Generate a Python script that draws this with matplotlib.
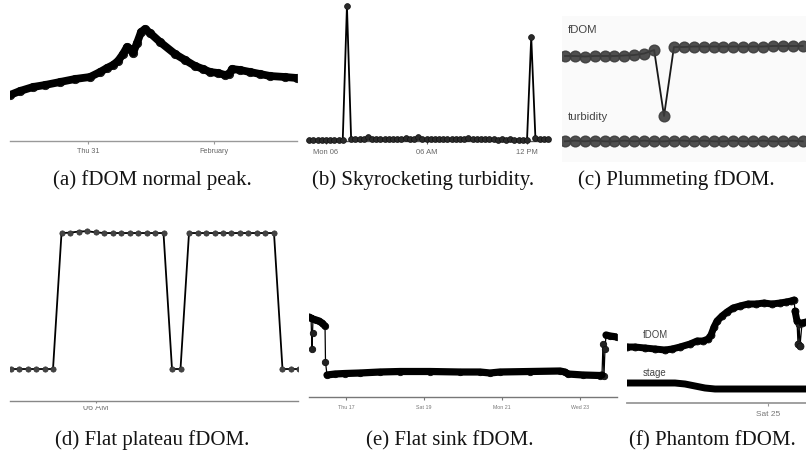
import numpy as np
import matplotlib
matplotlib.use('Agg')
import matplotlib.pyplot as plt
from matplotlib.transforms import Bbox, TransformedBbox

# (a) fDOM normal peak: hours since Jan 30 00:00
a_hours = [9.14, 11.05, 13.52, 15.81, 18.67, 21.52, 24.38, 26.29, 27.62, 28.76,
           29.71, 30.67, 31.43, 32.0, 32.57, 33.33, 34.1, 34.86, 35.81, 37.71,
           40.57, 42.48, 44.38, 45.9, 47.24, 48.76, 50.1, 50.86, 51.43, 52.95,
           54.86, 56.76, 58.67, 61.52, 63.81]
a_fdom = [43, 45, 47, 48, 49.5, 51, 52, 54.5, 56.5, 58,
          60, 63.5, 67, 66, 64, 69, 74.5, 76, 74, 69.5,
          63.5, 60.5, 57.5, 56, 54.5, 54, 53, 53.5, 56, 55.5,
          54.5, 53.5, 52.5, 52, 51.5]
a_ticks = [24, 48]
a_ticklabels = ['Thu 31', 'February']

# (b) skyrocketing turbidity: 15-minute samples, hours since Mon 06 00:00
b_hours = np.arange(58) * 0.25 - 1.0
b_turb = [2.1, 2.2, 2.1, 2.2, 2.2, 2.1, 2.2, 2.3,
          2.4, 136.0, 3.0, 3.2, 3.3, 3.4, 4.6, 3.3,
          3.1, 3.0, 2.9, 2.8, 2.9, 3.0, 3.2, 4.5,
          3.0, 3.1, 4.6, 3.2, 2.9, 2.8, 2.7, 2.8,
          2.7, 2.8, 2.7, 2.8, 2.9, 3.0, 4.4, 3.0,
          2.8, 2.7, 2.6, 2.7, 2.6, 2.5, 2.6, 2.5,
          2.6, 2.5, 2.4, 2.5, 2.5, 105.0, 3.6, 3.4,
          3.2, 3.0]
b_ticks = [0, 6, 12]
b_ticklabels = ['Mon 06', '06 AM', '12 PM']

# (c) plummeting fDOM next to steady turbidity
c_minutes = np.arange(25) * 15
c_fdom = [30.2, 30.2, 30.1, 30.2, 30.2, 30.2, 30.3, 30.4, 30.7, 31.4,
          18.2,
          32.0, 32.0, 32.1, 32.1, 32.1, 32.1, 32.1, 32.1, 32.1, 32.1,
          32.2, 32.2, 32.2, 32.2]
c_turb = [1.21, 1.22, 1.21, 1.22, 1.21, 1.21, 1.22, 1.21, 1.22, 1.21,
          1.21, 1.22, 1.22, 1.21, 1.22, 1.21, 1.21, 1.22, 1.21, 1.21,
          1.22, 1.21, 1.21, 1.22, 1.21]

# (d) flat plateau fDOM: 15-minute samples from 03:30
d_hours = np.arange(35) * 0.25 + 3.5
d_fdom = [115, 115, 115, 115, 115, 115,
          300, 300.5, 302, 302.5, 301, 300, 300, 300, 300, 300, 300, 300, 300,
          115, 115,
          300, 300, 300, 300, 300, 300, 300, 300, 300, 300, 300,
          115, 115, 115]
d_ticks = [6]
d_ticklabels = ['06 AM']

# (e) flat sink fDOM: days since Thu 17 00:00
e_days = [-0.949, -0.897, -0.872, -0.859, -0.846, -0.769, -0.692, -0.615, -0.538, -0.526,
          -0.487, -0.282, -0.026, 0.359, 0.872, 1.385, 2.154, 2.923, 3.436, 3.692,
          3.949, 4.718, 5.487, 5.615, 5.692, 6.077, 6.513, 6.564, 6.590, 6.615,
          6.641, 6.667, 6.769, 6.949]
e_fdom = [45.0, 44.5, 29.0, 37.0, 44.0, 43.5, 43.0, 42.0, 40.5, 22.5,
          16.0, 16.5, 16.75, 17.0, 17.5, 17.75, 17.75, 17.5, 17.5, 17.0,
          17.5, 17.75, 18.0, 17.5, 16.5, 16.0, 15.75, 16.0, 31.5, 15.5,
          29.0, 36.0, 35.5, 35.0]
e_ticks = [0, 2, 4, 6]
e_ticklabels = ['Thu 17', 'Sat 19', 'Mon 21', 'Wed 23']

# (f) phantom fDOM with stage below: hours since Sat 25 00:00
f_hours = [-23.5, -22.17, -20.5, -18.83, -17.17, -16.0, -14.67, -13.0, -11.83, -10.83,
           -10.0, -9.5, -9.0, -8.5, -7.67, -6.83, -5.83, -4.67, -3.33, -2.0,
           -0.67, 0.67, 2.0, 3.0, 3.83, 4.33, 4.5, 4.83, 5.0, 5.17,
           5.33, 5.67, 6.33]
f_fdom = [32.4, 32.4, 32.0, 31.6, 31.2, 31.6, 32.4, 33.6, 34.8, 34.8,
          35.6, 37.2, 40.4, 42.8, 44.8, 46.4, 48.0, 48.8, 49.6, 49.6,
          50.0, 49.6, 50.0, 50.4, 50.8, 51.2, 46.8, 42.8, 33.6, 41.6,
          32.8, 42.0, 42.4]
f_stage_hours = [-23.5, -19.67, -15.5, -13.83, -12.17, -10.5, -8.83, -6.33, -1.33, 3.67, 6.33]
f_stage = [0.70, 0.70, 0.70, 0.69, 0.67, 0.65, 0.64, 0.64, 0.64, 0.64, 0.64]
f_ticks = [0]
f_ticklabels = ['Sat 25']

captions = ['(a) fDOM normal peak.', '(b) Skyrocketing turbidity.', '(c) Plummeting fDOM.',
            '(d) Flat plateau fDOM.', '(e) Flat sink fDOM.', '(f) Phantom fDOM.']

W, H = 806, 452
fig = plt.figure(figsize=(W / 100, H / 100), dpi=100)
SANS = 'Liberation Sans'


def box(x0, y0, x1, y1):
    # axes placed by pixel edges, y measured from the top
    return fig.add_axes([x0 / W, 1 - y1 / H, (x1 - x0) / W, (y1 - y0) / H])


def bare(ax):
    ax.patch.set_alpha(0)
    for s in ax.spines.values():
        s.set_visible(False)
    ax.set_xticks([])
    ax.set_yticks([])


def time_axis(ax, ticks, labels, size, color='#999', labelcolor='#666', lw=1.0, pad=2,
              length=2.5):
    bare(ax)
    ax.spines['bottom'].set_visible(True)
    ax.spines['bottom'].set_color(color)
    ax.spines['bottom'].set_linewidth(lw)
    ax.set_xticks(ticks, labels)
    ax.tick_params(axis='x', length=length, width=0.8, color=color, pad=pad,
                   labelsize=size, labelcolor=labelcolor)
    for lab in ax.get_xticklabels():
        lab.set_family(SANS)


def split_jumps(x, y, limit):
    # break the heavy trace wherever the series jumps, so jumps stay thin
    xs, ys = [x[0]], [y[0]]
    for i in range(1, len(x)):
        if abs(y[i] - y[i - 1]) > limit:
            xs.append(np.nan)
            ys.append(np.nan)
        xs.append(x[i])
        ys.append(y[i])
    return xs, ys


def heavy(ax, x, y, limit, thin=0.9, thick=5.0, ms=5):
    ax.plot(x, y, color='black', lw=thin, marker='o', ms=ms, mfc='#222', mec='#111',
            mew=0.6, zorder=3)
    hx, hy = split_jumps(x, y, limit)
    ax.plot(hx, hy, color='black', lw=thick, solid_capstyle='round',
            solid_joinstyle='round', zorder=4)


# (a)
ax = box(10, 10, 297, 142)
heavy(ax, a_hours, a_fdom, 100, thick=5.6, ms=6)
ax.set_xlim(9.14, 63.8)
ax.set_ylim(20, 86)
time_axis(ax, a_ticks, a_ticklabels, 5.2)

# (b)
ax = box(307, 0, 550, 142)
ax.plot(b_hours, b_turb, color='black', lw=1.3, marker='o', ms=4.2,
        mfc='#2a2a2a', mec='#111', mew=0.5, zorder=3, clip_on=False)
ax.set_xlim(-1.134, 13.37)
ax.set_ylim(1, 143)
time_axis(ax, b_ticks, b_ticklabels, 5.4, color='#555', pad=2.5)

# (c)
ax = box(562, 17, 806, 163)
bare(ax)
ax.patch.set_alpha(1)
ax.set_facecolor('#fafafa')
ax.plot(c_minutes, c_fdom, color='black', lw=1.3, marker='o', ms=7.7,
        mfc='#3c3c3c', mec='#3c3c3c', alpha=0.9, zorder=3)
ax.set_xlim(-4.5, 365)
ax.set_ylim(9.0, 38.2)
ax2 = box(562, 17, 806, 163)
bare(ax2)
ax2.plot(c_minutes, c_turb, color='black', lw=1.3, marker='o', ms=7.7,
         mfc='#3c3c3c', mec='#3c3c3c', alpha=0.9, zorder=3)
ax2.set_xlim(-4.5, 365)
ax2.set_ylim(0.9, 3.09)
fig.text(568 / W, 1 - 30 / H, 'fDOM', family=SANS, size=8.2, color='#444', va='center')
fig.text(568 / W, 1 - 117 / H, 'turbidity', family=SANS, size=8.2, color='#444', va='center')

# (d): the tick label sits half hidden under the axis
ax = box(10, 215, 298, 402)
ax.plot(d_hours, d_fdom, color='black', lw=1.3, marker='o', ms=3.8,
        mfc='#444', mec='#333', mew=0.5, zorder=3)
ax.set_xlim(3.485, 11.956)
ax.set_ylim(71.5, 325.9)
time_axis(ax, d_ticks, [''] * len(d_ticks), 6.5, color='#888', length=1.5)
clip = TransformedBbox(Bbox.from_extents(0, 0, 1, 1 - 407 / H), fig.transFigure)
for tick, label in zip(d_ticks, d_ticklabels):
    xf = fig.transFigure.inverted().transform(ax.transData.transform((tick, 0)))[0]
    t = fig.text(xf, 1 - 407.5 / H, label, family=SANS, size=6.5, color='#777',
                 ha='center', va='center')
    t.set_clip_box(clip)
    t.set_clip_on(True)

# (e)
ax = box(309, 300, 617, 398)
heavy(ax, e_days, e_fdom, 4, thick=5.2, ms=4.6)
ax.set_xlim(-0.949, 6.949)
ax.set_ylim(5, 54)
time_axis(ax, e_ticks, e_ticklabels, 3.8, color='#777', labelcolor='#777', pad=2.5)

# (f)
ax = box(627, 290, 806, 404)
heavy(ax, f_hours, f_fdom, 4, thick=5.0, ms=5)
ax.set_xlim(-23.5, 6.33)
ax.set_ylim(10, 55.6)
time_axis(ax, f_ticks, f_ticklabels, 6.0, color='#999', labelcolor='#777', lw=1.3, pad=2.5)
ax2 = box(627, 290, 806, 404)
bare(ax2)
ax2.plot(f_stage_hours, f_stage, color='black', lw=5.0, solid_capstyle='round', zorder=3)
ax2.set_xlim(-23.5, 6.33)
ax2.set_ylim(0.5, 1.64)
fig.text(643 / W, 1 - 335 / H, 'fDOM', family=SANS, size=6.9, color='#444', va='center')
fig.text(643 / W, 1 - 373 / H, 'stage', family=SANS, size=6.9, color='#444', va='center')

# captions under each panel
for (cx, cy), text in zip([(152, 185), (423, 185), (676, 185),
                           (152, 445), (450, 445), (712, 445)], captions):
    fig.text(cx / W, 1 - cy / H, text, ha='center', va='baseline',
             family='Liberation Serif', size=15, color='#141414')

fig.savefig('out.png', dpi=100)
